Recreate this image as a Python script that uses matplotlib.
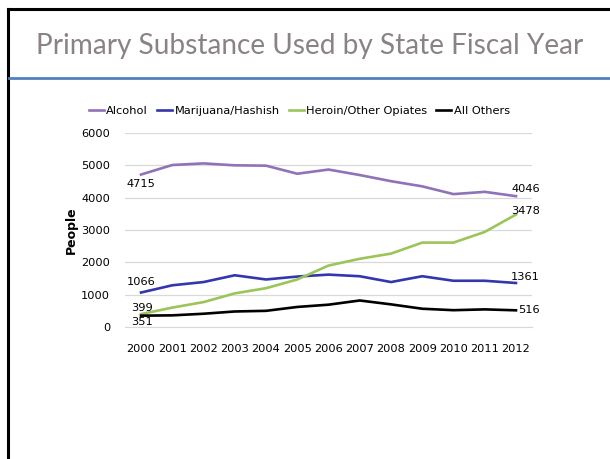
import matplotlib.pyplot as plt
import numpy as np

years = ["2000", "2001", "2002", "2003", "2004", "2005", "2006",
         "2007", "2008", "2009", "2010", "2011", "2012"]
alcohol = [4715, 5010, 5060, 5000, 4990, 4740, 4870, 4700, 4510, 4350, 4110, 4180, 4046]
marijuana = [1066, 1290, 1390, 1600, 1470, 1560, 1620, 1570, 1390, 1570, 1430, 1430, 1361]
heroin = [399, 600, 770, 1040, 1200, 1470, 1900, 2110, 2270, 2610, 2610, 2940, 3478]
others = [351, 360, 410, 480, 500, 620, 690, 820, 700, 565, 520, 545, 516]

series = [
    ("Alcohol", alcohol, "#8f72b8"),
    ("Marijuana/Hashish", marijuana, "#3337ae"),
    ("Heroin/Other Opiates", heroin, "#9bc55a"),
    ("All Others", others, "#000000"),
]

fig = plt.figure(figsize=(6.10, 4.59), dpi=100)

# cadre du slide
fig.add_artist(plt.Line2D([8 / 610, 8 / 610], [0, 1 - 9 / 459], color="black", lw=2.2))
fig.add_artist(plt.Line2D([8 / 610, 1], [1 - 9 / 459, 1 - 9 / 459], color="black", lw=2.2))
fig.add_artist(plt.Line2D([9 / 610, 1], [1 - 78 / 459, 1 - 78 / 459], color="#4f81bd", lw=2.0))
fig.text(36 / 610, 1 - 46 / 459, "Primary Substance Used by State Fiscal Year",
         fontsize=20.2, color="#8a8383", va="center", ha="left", family="Lato")

ax = fig.add_axes([125.4 / 610, 1 - 327 / 459, 406.2 / 610, 194 / 459])
x = np.arange(len(years))
for name, vals, col in series:
    ax.plot(x, vals, color=col, lw=1.9, label=name, solid_joinstyle="round")

ax.set_xlim(-0.5, len(years) - 0.5)
ax.set_ylim(0, 6000)
ax.set_yticks(range(0, 6001, 1000))
ax.set_xticks(x)
ax.set_xticklabels(years)
ax.grid(axis="y", color="#d9d9d9", lw=0.9)
ax.set_axisbelow(True)
for s in ["top", "right", "left"]:
    ax.spines[s].set_visible(False)
ax.spines["bottom"].set_color("#d9d9d9")
ax.tick_params(length=0, labelsize=8.2, colors="black")
ax.tick_params(axis="x", pad=12)
ax.tick_params(axis="y", pad=11)
ax.set_ylabel("People", fontsize=9, fontweight="bold", labelpad=2)

# étiquettes de données
lab = dict(fontsize=8.2, color="black", va="center", textcoords="offset points")
ax.annotate(str(alcohol[0]), (0, alcohol[0]), xytext=(0, -7), ha="center", **lab)
ax.annotate(str(marijuana[0]), (0, marijuana[0]), xytext=(0, 7.5), ha="center", **lab)
ax.annotate(str(heroin[0]), (0, heroin[0]), xytext=(0.5, 4.5), ha="center", **lab)
ax.annotate(str(others[0]), (0, others[0]), xytext=(0.5, -4.5), ha="center", **lab)
ax.annotate(str(alcohol[-1]), (12, alcohol[-1]), xytext=(-3.5, 5), ha="left", **lab)
ax.annotate(str(heroin[-1]), (12, heroin[-1]), xytext=(-3.5, 2.5), ha="left", **lab)
ax.annotate(str(marijuana[-1]), (12, marijuana[-1]), xytext=(-3.5, 4.5), ha="left", **lab)
ax.annotate(str(others[-1]), (12, others[-1]), xytext=(1.5, 0), ha="left", **lab)

ax.legend(loc="lower left", bbox_to_anchor=(-0.0896, 1.09), ncol=4, frameon=False,
          fontsize=8.2, handlelength=1.32, handletextpad=0.2, columnspacing=0.8,
          borderaxespad=0, borderpad=0)

fig.savefig("out.png", dpi=100)
